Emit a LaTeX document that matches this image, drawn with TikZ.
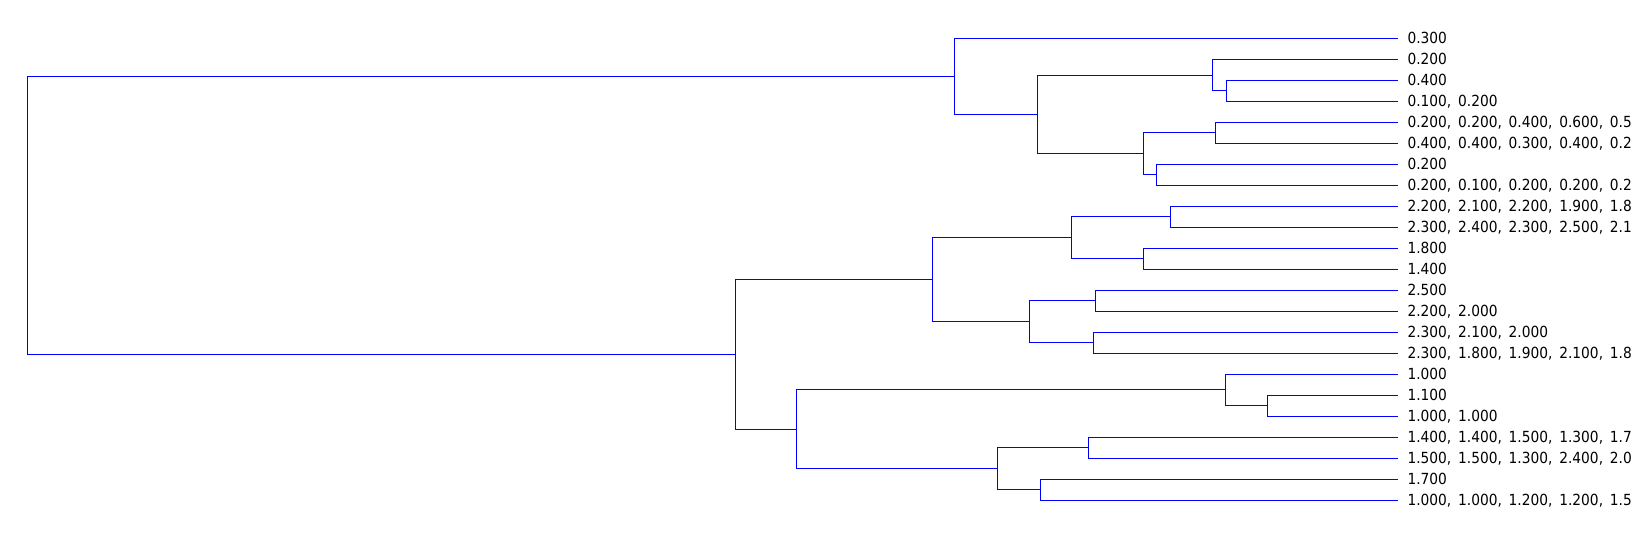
\documentclass[tikz,border=0pt]{standalone}
\usepackage{fontspec}
\setmainfont{DejaVu Sans Condensed}
\newfontfamily\valfont[WordSpace=1.57]{DejaVu Sans Condensed}
\tikzset{
  link/.style={draw=blue, line width=1pt},
  val/.style={anchor=west, inner xsep=9.5pt, inner ysep=0pt, outer sep=0pt,
    text height=11.2pt, text depth=0pt,
    font=\valfont\fontsize{15.3}{17}\selectfont},
}

\begin{document}
\begin{tikzpicture}[x=1pt,y=-1pt]
	\useasboundingbox (0,0) rectangle (1636,539);
	\clip (0,0) rectangle (1636,539);
	% leaf values
	\node (v0) [val] at (1398,38.3) {0.300};
	\node (v1) [val] at (1398,59.3) {0.200};
	\node (v2) [val] at (1398,80.3) {0.400};
	\node (v3) [val] at (1398,101.3) {0.100, 0.200};
	\node (v4) [val] at (1398,122.3) {0.200, 0.200, 0.400, 0.600, 0.5};
	\node (v5) [val] at (1398,143.3) {0.400, 0.400, 0.300, 0.400, 0.2};
	\node (v6) [val] at (1398,164.2) {0.200};
	\node (v7) [val] at (1398,185.2) {0.200, 0.100, 0.200, 0.200, 0.2};
	\node (v8) [val] at (1398,206.2) {2.200, 2.100, 2.200, 1.900, 1.8};
	\node (v9) [val] at (1398,227.2) {2.300, 2.400, 2.300, 2.500, 2.1};
	\node (v10) [val] at (1398,248.2) {1.800};
	\node (v11) [val] at (1398,269.2) {1.400};
	\node (v12) [val] at (1398,290.2) {2.500};
	\node (v13) [val] at (1398,311.2) {2.200, 2.000};
	\node (v14) [val] at (1398,332.2) {2.300, 2.100, 2.000};
	\node (v15) [val] at (1398,353.2) {2.300, 1.800, 1.900, 2.100, 1.8};
	\node (v16) [val] at (1398,374.1) {1.000};
	\node (v17) [val] at (1398,395.1) {1.100};
	\node (v18) [val] at (1398,416.1) {1.000, 1.000};
	\node (v19) [val] at (1398,437.1) {1.400, 1.400, 1.500, 1.300, 1.7};
	\node (v20) [val] at (1398,458.1) {1.500, 1.500, 1.300, 2.400, 2.0};
	\node (v21) [val] at (1398,479.1) {1.700};
	\node (v22) [val] at (1398,500.1) {1.000, 1.000, 1.200, 1.200, 1.5};
	% merge points
	\coordinate (D) at (1226.3,90.8);
	\coordinate (C) at (1212.7,75.0);
	\coordinate (E) at (1215.7,132.8);
	\coordinate (G) at (1156,174.7);
	\coordinate (F) at (1143.7,153.8);
	\coordinate (B) at (1037.3,114.4);
	\coordinate (A) at (954.7,76.3);
	\coordinate (H) at (1170.5,216.7);
	\coordinate (I) at (1143.3,258.7);
	\coordinate (J) at (1071,237.7);
	\coordinate (K) at (1095.5,300.7);
	\coordinate (L) at (1093.3,342.7);
	\coordinate (M) at (1029.9,321.7);
	\coordinate (N) at (932.1,279.7);
	\coordinate (R) at (1267.4,405.6);
	\coordinate (Q) at (1225,389.9);
	\coordinate (S) at (1088.4,447.6);
	\coordinate (T) at (1040.6,489.6);
	\coordinate (U) at (997.8,468.6);
	\coordinate (P) at (796,429.3);
	\coordinate (O) at (735.3,354.5);
	\coordinate (root) at (27.3,215.4);
	% branches
	\draw[link] (D) |- (v2) (D) |- (v3);
	\draw[link] (C) |- (v1) (C) |- (D);
	\draw[link] (E) |- (v4) (E) |- (v5);
	\draw[link] (G) |- (v6) (G) |- (v7);
	\draw[link] (F) |- (E) (F) |- (G);
	\draw[link] (B) |- (C) (B) |- (F);
	\draw[link] (A) |- (v0) (A) |- (B);
	\draw[link] (H) |- (v8) (H) |- (v9);
	\draw[link] (I) |- (v10) (I) |- (v11);
	\draw[link] (J) |- (H) (J) |- (I);
	\draw[link] (K) |- (v12) (K) |- (v13);
	\draw[link] (L) |- (v14) (L) |- (v15);
	\draw[link] (M) |- (K) (M) |- (L);
	\draw[link] (N) |- (J) (N) |- (M);
	\draw[link] (R) |- (v17) (R) |- (v18);
	\draw[link] (Q) |- (v16) (Q) |- (R);
	\draw[link] (S) |- (v19) (S) |- (v20);
	\draw[link] (T) |- (v21) (T) |- (v22);
	\draw[link] (U) |- (S) (U) |- (T);
	\draw[link] (P) |- (Q) (P) |- (U);
	\draw[link] (O) |- (N) (O) |- (P);
	\draw[link] (root) |- (A) (root) |- (O);
\end{tikzpicture}
\end{document}
